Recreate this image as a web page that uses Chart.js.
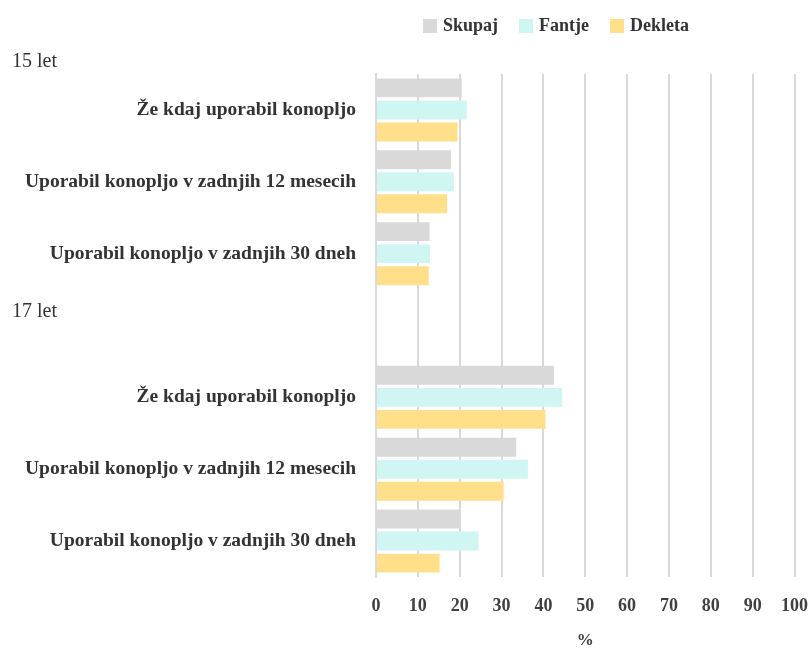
<!DOCTYPE html>
<html lang="sl">
<head>
  <meta charset="UTF-8">
  <title>Uporaba konoplje</title>
  <script src="https://cdn.jsdelivr.net/npm/chart.js"></script>
  <style>
    body {
      margin: 0;
      padding: 0;
      font-family: 'Liberation Serif', serif;
      background: #fff;
    }
    .chart-container {
      position: relative;
      width: 811px;
      height: 648px;
    }
    #legend {
      position: absolute;
      top: 15px;
      left: 423px;
      display: flex;
      font-weight: bold;
      font-size: 18px;
      color: #333;
    }
    #legend span.item {
      display: flex;
      align-items: center;
      margin-right: 21px;
    }
    #legend span.box {
      display: inline-block;
      width: 14px;
      height: 14px;
      margin-right: 6px;
    }
  </style>
</head>
<body>
  <div class="chart-container">
    <canvas id="konopljaChart" width="811" height="648"></canvas>
    <div id="legend"></div>
  </div>

  <script>
    const kategorije = [
      'Že kdaj uporabil konopljo',
      'Uporabil konopljo v zadnjih 12 mesecih',
      'Uporabil konopljo v zadnjih 30 dneh',
      '',
      'Že kdaj uporabil konopljo',
      'Uporabil konopljo v zadnjih 12 mesecih',
      'Uporabil konopljo v zadnjih 30 dneh'
    ];
    const skupine = ['15 let', '17 let'];
    const skupaj = [20.5, 17.9, 12.8, null, 42.5, 33.5, 20.2];
    const fantje = [21.7, 18.6, 12.9, null, 44.5, 36.3, 24.5];
    const dekleta = [19.5, 17.0, 12.6, null, 40.5, 30.5, 15.2];
    const nizi = ['Skupaj', 'Fantje', 'Dekleta'];
    const barve = ['#d9d9d9', '#d0f6f4', '#ffdf89'];
    const enota = '%';

    // oznake starostnih skupin in enota osi
    const skupinePlugin = {
      id: 'skupine',
      afterDraw(chart) {
        const ctx = chart.ctx;
        const y = chart.scales.y;
        const area = chart.chartArea;
        ctx.save();
        ctx.font = '20px "Liberation Serif"';
        ctx.fillStyle = '#333';
        ctx.textAlign = 'left';
        ctx.textBaseline = 'middle';
        ctx.fillText(skupine[0], 12, area.top - 12);
        ctx.fillText(skupine[1], 12, y.getPixelForValue(3) - 14);
        ctx.font = 'bold 17px "Liberation Serif"';
        ctx.fillStyle = '#404040';
        ctx.textAlign = 'center';
        ctx.fillText(enota, (area.left + area.right) / 2, 641);
        ctx.restore();
      }
    };

    const ctx = document.getElementById('konopljaChart').getContext('2d');
    const chart = new Chart(ctx, {
      type: 'bar',
      data: {
        labels: kategorije,
        datasets: [
          { label: nizi[0], data: skupaj, backgroundColor: barve[0] },
          { label: nizi[1], data: fantje, backgroundColor: barve[1] },
          { label: nizi[2], data: dekleta, backgroundColor: barve[2] }
        ]
      },
      options: {
        indexAxis: 'y',
        responsive: false,
        animation: false,
        layout: {
          padding: { top: 74, right: 0, left: 0, bottom: 30 }
        },
        datasets: {
          bar: { categoryPercentage: 0.92, barPercentage: 0.86 }
        },
        scales: {
          x: {
            min: 0,
            max: 100,
            ticks: {
              stepSize: 10,
              color: '#404040',
              padding: 3,
              font: { family: 'Liberation Serif', size: 18, weight: 'bold', lineHeight: 1 }
            },
            grid: {
              color: '#d9d9d9',
              lineWidth: 2,
              drawTicks: true,
              tickLength: 17,
              tickColor: 'rgba(0,0,0,0)'
            },
            border: { display: false }
          },
          y: {
            afterFit(scale) { scale.width = 376; },
            ticks: {
              color: '#333',
              padding: 20,
              font: { family: 'Liberation Serif', size: 19.5, weight: 'bold' }
            },
            grid: { display: false, drawTicks: false },
            border: { color: '#d9d9d9', width: 2 }
          }
        },
        plugins: {
          legend: { display: false },
          tooltip: { enabled: false }
        }
      },
      plugins: [skupinePlugin]
    });

    // legenda
    const legenda = document.getElementById('legend');
    nizi.forEach((ime, i) => {
      const item = document.createElement('span');
      item.className = 'item';
      item.innerHTML = '<span class="box" style="background:' + barve[i] + '"></span>' + ime;
      legenda.appendChild(item);
    });
  </script>
</body>
</html>
